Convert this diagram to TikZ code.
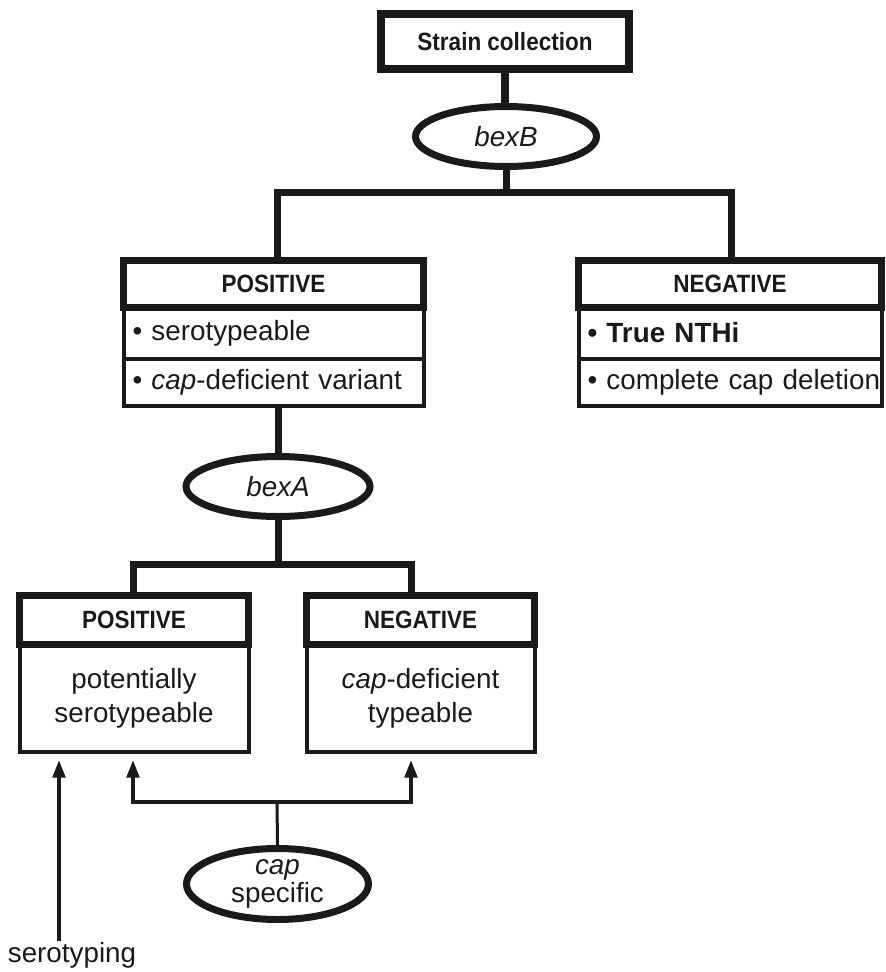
\documentclass[tikz,border=0pt]{standalone}
\usepackage{fontspec}
\setmainfont{Liberation Sans}
\newfontfamily\hdrfont[FakeStretch=0.9]{Liberation Sans}
\usetikzlibrary{shapes.geometric,arrows.meta}
\definecolor{ink}{HTML}{1A1A1A}
\begin{document}
\begin{tikzpicture}[x=1pt,y=-1pt,
  hdr/.style={draw=ink, line width=7pt, rectangle, inner sep=0pt, text=ink,
    font=\hdrfont\bfseries\fontsize{25pt}{30pt}\selectfont},
  rowbox/.style={draw=ink, line width=4pt, rectangle, inner xsep=9pt, inner ysep=0pt,
    align=left, text=ink, font=\fontsize{27.8pt}{33pt}\selectfont},
  bodybox/.style={draw=ink, line width=4pt, rectangle, inner sep=0pt, align=center,
    text=ink, font=\fontsize{27.8pt}{34pt}\selectfont},
  oval/.style={draw=ink, line width=7pt, ellipse, inner sep=0pt, align=center,
    text=ink, font=\fontsize{27.8pt}{28pt}\selectfont},
  thickln/.style={draw=ink, line width=7pt, line join=miter},
  tip/.style={Triangle[length=18pt,width=12pt]},
  arr/.style={draw=ink, line width=4.5pt, -{Triangle[length=18pt,width=12pt]}, shorten >=5.5pt},
]
\useasboundingbox (0,0) rectangle (886,972);

% top
\node[hdr, line width=8pt, minimum width=248pt, minimum height=55pt] (strain) at (505,41.5) {Strain collection};
\node[oval, minimum width=181pt, minimum height=60pt] (bexB) at (506,136.5) {\itshape bexB};

% left positive box
\node[rowbox, text width=282pt, minimum height=52pt] (pr1) at (273.5,333) {\mbox{• serotypeable}};
\node[rowbox, text width=282pt, minimum height=47pt] (pr2) at (273.5,382.5) {\mbox{• \textit{cap}-deficient variant}};
\node[hdr, minimum width=300pt, minimum height=46.5pt] (ph) at (273.5,283.75) {POSITIVE};

% right negative box
\node[rowbox, text width=285pt, minimum height=52pt] (nr1) at (730,333) {\mbox{\bfseries • True NTHi}};
\node[rowbox, text width=285pt, minimum height=47pt] (nr2) at (730,382.5) {\mbox{• complete cap deletion}};
\node[hdr, minimum width=303pt, minimum height=46.5pt] (nh) at (730,283.75) {NEGATIVE};

% bexA
\node[oval, minimum width=184pt, minimum height=60pt] (bexA) at (278,486.5) {\itshape bexA};

% lower boxes
\node[bodybox, minimum width=229pt, minimum height=107pt] (lpB) at (134,698.5) {potentially\\serotypeable};
\node[hdr, minimum width=229pt, minimum height=49.5pt] (lpH) at (134,620) {POSITIVE};
\node[bodybox, minimum width=228pt, minimum height=107pt] (lnB) at (420.5,698.5) {\textit{cap}-deficient\\typeable};
\node[hdr, minimum width=228pt, minimum height=49.5pt] (lnH) at (420.5,620) {NEGATIVE};

% cap specific
\node[oval, inner sep=-3pt, minimum width=182pt, minimum height=71pt] (cap) at (277.5,884) {\itshape cap\\specific};

% serotyping
\node[inner sep=1pt, text=ink, font=\fontsize{27.8pt}{33pt}\selectfont] (sero) at (72,955) {serotyping};

% connectors
\coordinate (jB) at (506,192);
\coordinate (jL) at (277,192);
\coordinate (jR) at (731,192);
\draw[thickln, line width=8pt] (strain.south) -- (strain.south |- bexB.north);
\draw[thickln] (bexB.south) -- (jB);
\draw[thickln] (jL |- ph.north) -- (jL) -- (jR) -- (jR |- nh.north);

\draw[thickln] (bexA.north |- pr2.south) -- (bexA.north);
\coordinate (kA) at (278,564);
\coordinate (kL) at (133,564);
\coordinate (kR) at (411,564);
\draw[thickln] (bexA.south) -- (kA);
\draw[thickln] (kL |- lpH.north) -- (kL) -- (kR) -- (kR |- lnH.north);

\coordinate (cL) at (133,802);
\coordinate (cR) at (411,802);
\coordinate (cM) at (277,802);
\draw[draw=ink, line width=3pt] (cap.north) -- (cM);
\draw[draw=ink, line width=4.5pt, line join=miter, {Triangle[length=18pt,width=12pt]}-{Triangle[length=18pt,width=12pt]},
  shorten <=5.5pt, shorten >=5.5pt] (cL |- lpB.south) -- (cL) -- (cR) -- (cR |- lnB.south);

\coordinate (sx) at (59,935);
\draw[arr] (sero.north -| sx) -- (sx |- lpB.south);
\end{tikzpicture}
\end{document}
